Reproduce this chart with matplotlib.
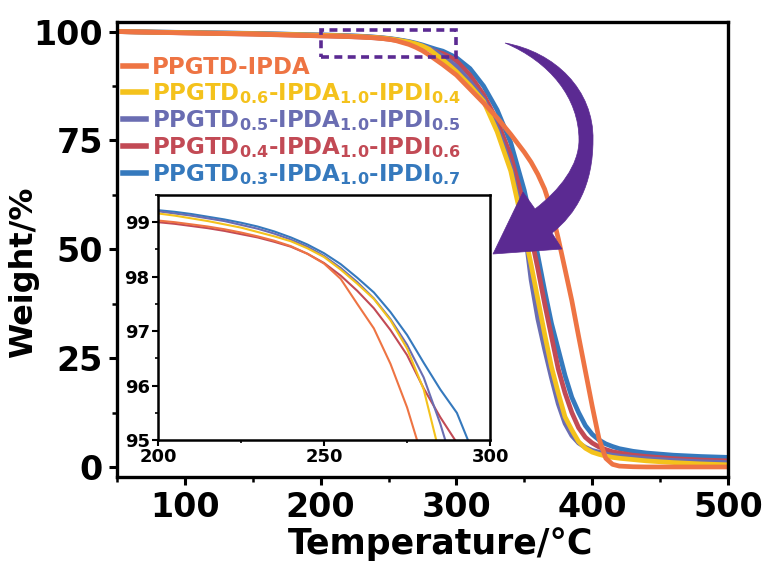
import numpy as np
import matplotlib
matplotlib.use("Agg")
import matplotlib.pyplot as plt
from matplotlib.patches import Rectangle, PathPatch
from matplotlib.path import Path
from matplotlib.ticker import MultipleLocator
import matplotlib.transforms as mtransforms

plt.rcParams['font.family'] = ['DejaVu Sans']
plt.rcParams['mathtext.fontset'] = 'dejavusans'
plt.rcParams['font.weight'] = 'bold'

# ---------------- data ----------------
temperature = [50, 100, 150, 200, 205, 210, 215, 220, 225, 230, 235, 240, 245, 250,
               255, 260, 265, 270, 275, 280, 285, 290, 295, 300, 310, 320, 330, 340,
               350, 355, 360, 365, 370, 375, 380, 385, 390, 395, 400, 405, 410, 415,
               420, 430, 440, 460, 480, 500]

w_ppgtd_ipda = [100.0, 99.7, 99.45, 99.03, 99.0, 98.96, 98.92, 98.87, 98.81, 98.74, 98.66,
                98.56, 98.42, 98.24, 97.96, 97.5, 97.05, 96.4, 95.6, 94.6, 93.5, 92.4,
                91.2, 90.0, 86.8, 83.6, 80.2, 76.4, 72.3, 70.0, 67.2, 63.8, 59.0, 52.5,
                45.4, 38.2, 30.0, 22.0, 14.0, 6.5, 2.0, 0.6, 0.2, 0.05, 0.0, 0.0, 0.0, 0.0]
w_06_04 = [100.0, 99.75, 99.5, 99.16, 99.12, 99.07, 99.02, 98.96, 98.9, 98.82, 98.74,
           98.65, 98.52, 98.36, 98.13, 97.87, 97.59, 97.2, 96.68, 95.93, 94.7, 93.5,
           92.2, 90.8, 87.6, 84.0, 77.0, 68.0, 54.0, 46.5, 38.5, 30.5, 23.0, 17.0,
           11.5, 8.5, 5.8, 4.3, 3.4, 2.9, 2.5, 2.2, 2.0, 1.7, 1.4, 1.0, 0.7, 0.5]
w_05_05 = [100.0, 99.78, 99.55, 99.2, 99.16, 99.12, 99.07, 99.02, 98.95, 98.88, 98.79,
           98.68, 98.55, 98.38, 98.16, 97.9, 97.6, 97.22, 96.75, 96.15, 95.3, 94.3,
           93.2, 92.0, 88.5, 84.5, 78.0, 69.0, 55.5, 43.0, 34.0, 27.0, 20.5, 14.5,
           10.0, 7.2, 5.5, 4.5, 3.8, 3.4, 3.0, 2.7, 2.5, 2.2, 1.9, 1.5, 1.2, 1.0]
w_04_06 = [100.0, 99.68, 99.4, 99.0, 98.97, 98.93, 98.89, 98.84, 98.78, 98.72, 98.64,
           98.55, 98.42, 98.25, 98.02, 97.74, 97.42, 97.02, 96.56, 95.95, 95.42, 94.95,
           94.2, 93.3, 90.0, 85.5, 79.5, 71.5, 60.0, 53.0, 45.5, 37.5, 30.0, 22.5,
           17.0, 12.5, 9.0, 6.8, 5.5, 4.6, 4.0, 3.5, 3.2, 2.7, 2.4, 1.9, 1.6, 1.4]
w_03_07 = [100.0, 99.8, 99.58, 99.22, 99.19, 99.15, 99.1, 99.05, 98.99, 98.92, 98.83,
           98.72, 98.59, 98.43, 98.23, 97.98, 97.71, 97.35, 96.93, 96.42, 95.93, 95.5,
           94.75, 94.0, 91.5, 87.5, 82.0, 74.5, 63.5, 56.5, 48.5, 40.5, 33.0, 27.0,
           21.0, 16.0, 12.5, 9.5, 7.5, 6.2, 5.3, 4.7, 4.2, 3.6, 3.2, 2.7, 2.4, 2.2]

labels = [r"PPGTD-IPDA",
          r"PPGTD$_{\mathbf{0.6}}$-IPDA$_{\mathbf{1.0}}$-IPDI$_{\mathbf{0.4}}$",
          r"PPGTD$_{\mathbf{0.5}}$-IPDA$_{\mathbf{1.0}}$-IPDI$_{\mathbf{0.5}}$",
          r"PPGTD$_{\mathbf{0.4}}$-IPDA$_{\mathbf{1.0}}$-IPDI$_{\mathbf{0.6}}$",
          r"PPGTD$_{\mathbf{0.3}}$-IPDA$_{\mathbf{1.0}}$-IPDI$_{\mathbf{0.7}}$"]
series = [w_ppgtd_ipda, w_06_04, w_05_05, w_04_06, w_03_07]
colors = ["#EE7443", "#F4C21C", "#6A6DB2", "#C24A55", "#3579BD"]
draw_order = [4, 3, 2, 1, 0]

main_xticks = [100, 200, 300, 400, 500]
main_yticks = [0, 25, 50, 75, 100]
inset_xticks = [200, 250, 300]
inset_yticks = [95, 96, 97, 98, 99]

purple = "#5B2A92"

# ---------------- figure ----------------
W_PX, H_PX = 767, 565
fig = plt.figure(figsize=(W_PX / 100, H_PX / 100), dpi=100)
fig.patch.set_facecolor("white")

ax = fig.add_axes([0.1525, 0.1558, 0.7966, 0.8053])
lines = {}
for i in draw_order:
    ln, = ax.plot(temperature, series[i], color=colors[i], lw=3.4, label=labels[i])
    lines[i] = ln

ax.set_xlim(50, 500)
ax.set_ylim(-2.3, 102.2)
ax.set_xticks(main_xticks)
ax.set_yticks(main_yticks)
ax.xaxis.set_minor_locator(MultipleLocator(50))
ax.yaxis.set_minor_locator(MultipleLocator(12.5))
ax.tick_params(which='major', direction='out', length=6, width=2.2, labelsize=24,
               top=False, right=False, pad=4)
ax.tick_params(which='minor', direction='out', length=3.5, width=1.8, top=False, right=False)
for t in ax.get_xticklabels() + ax.get_yticklabels():
    t.set_fontweight('bold')
for s in ax.spines.values():
    s.set_linewidth(2.4)
ax.set_xlabel("Temperature/°C", fontsize=25, fontweight='bold')
ax.xaxis.set_label_coords(0.53, -0.11)
ax.set_ylabel("Weight/%", fontsize=23, fontweight='bold')
ax.yaxis.set_label_coords(-0.128, 0.45)

leg = ax.legend([lines[i] for i in range(5)], labels, loc='upper left',
                bbox_to_anchor=(0.01, 0.925), frameon=False,
                handlelength=1.0, handletextpad=0.25, labelspacing=0.09,
                borderpad=0.0, borderaxespad=0.0, labelcolor='linecolor',
                prop={'weight': 'bold', 'size': 16.5})
for h in leg.get_lines():
    h.set_linewidth(4)

# dashed zoom box
ax.add_patch(Rectangle((200, 94.2), 100, 6.1, fill=False, edgecolor=purple,
                       lw=2.6, ls=(0, (2.2, 1.5)), zorder=6))

# ---------------- inset ----------------
axi = fig.add_axes([0.206, 0.221, 0.433, 0.434])
for i in draw_order:
    axi.plot(temperature, series[i], color=colors[i], lw=1.5)
axi.set_xlim(200, 300)
axi.set_ylim(95, 99.5)
axi.set_xticks(inset_xticks)
axi.set_yticks(inset_yticks)
axi.xaxis.set_minor_locator(MultipleLocator(25))
axi.yaxis.set_minor_locator(MultipleLocator(0.5))
axi.tick_params(which='major', direction='out', length=4, width=1.5, labelsize=13,
                top=False, right=False, pad=2)
axi.tick_params(which='minor', direction='out', length=2.5, width=1.2, top=False, right=False)
for t in axi.get_xticklabels() + axi.get_yticklabels():
    t.set_fontweight('bold')
for s in axi.spines.values():
    s.set_linewidth(1.8)

# ---------------- curved arrow (figure pixel coordinates) ----------------
px2fig = mtransforms.Affine2D().scale(1.0 / W_PX, -1.0 / H_PX).translate(0, 1) + fig.transFigure
verts = [
    (505, 43),
    (555, 52), (594, 90), (593, 140),
    (593, 185), (576, 214), (552, 233),
    (562, 249),
    (493, 254),
    (523, 192),
    (535, 209),
    (560, 190), (579, 165), (579, 140),
    (579, 98), (550, 62), (505, 43),
    (505, 43),
]
codes = [Path.MOVETO,
         Path.CURVE4, Path.CURVE4, Path.CURVE4,
         Path.CURVE4, Path.CURVE4, Path.CURVE4,
         Path.LINETO, Path.LINETO, Path.LINETO, Path.LINETO,
         Path.CURVE4, Path.CURVE4, Path.CURVE4,
         Path.CURVE4, Path.CURVE4, Path.CURVE4,
         Path.CLOSEPOLY]
arrow = PathPatch(Path(verts, codes), facecolor=purple, edgecolor=purple, lw=0.5,
                  transform=px2fig, zorder=10)
fig.add_artist(arrow)

fig.savefig("out.png", dpi=100)
